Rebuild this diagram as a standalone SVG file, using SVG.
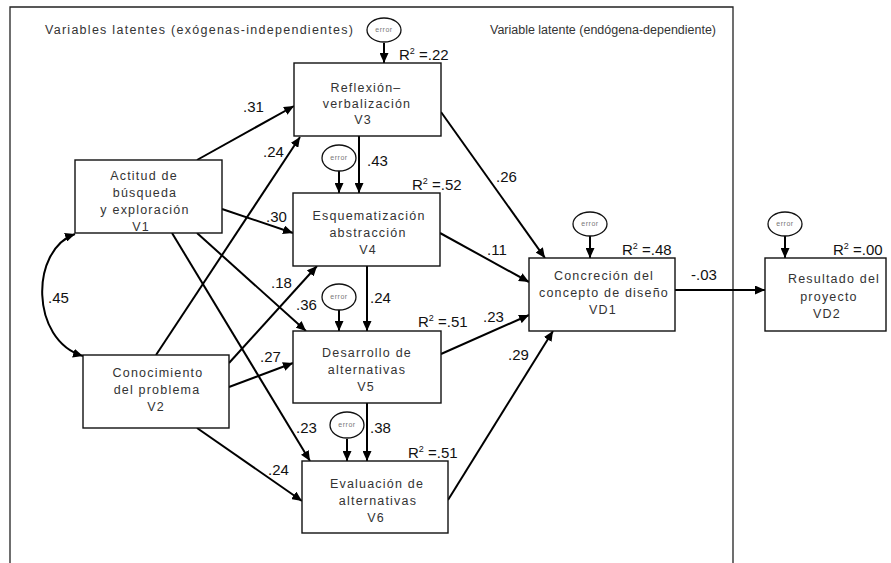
<svg xmlns="http://www.w3.org/2000/svg" width="891" height="563" viewBox="0 0 891 563">
<style>
.bg{fill:#fff}
.frame{fill:none;stroke:#222;stroke-width:1.3}
.box{fill:#fff;stroke:#111;stroke-width:1.4}
.bt{font-family:"Liberation Sans",Arial,sans-serif;font-size:12.5px;fill:#333;letter-spacing:1.2px;text-anchor:middle}
.hd{font-family:"Liberation Sans",Arial,sans-serif;font-size:12.5px;fill:#333}
.num{font-family:"Liberation Sans",Arial,sans-serif;font-size:15px;fill:#111}
.err{fill:#fff;stroke:#111;stroke-width:1.3}
.et{font-family:"Liberation Sans",Arial,sans-serif;font-size:7px;fill:#777;text-anchor:middle;letter-spacing:0.5px}
.c{fill:none;stroke:#000;stroke-width:2;marker-end:url(#ah)}
</style>
<defs>
<marker id="ah" markerUnits="userSpaceOnUse" markerWidth="11" markerHeight="9" refX="10" refY="4.5" orient="auto-start-reverse">
<path d="M0,0 L10,4.5 L0,9 z" fill="#000"/>
</marker>
</defs>
<rect class="bg" x="0" y="0" width="891" height="563"/>
<path class="frame" d="M10,563 V7 H733 V563"/>
<text class="hd" x="45" y="34" textLength="308" lengthAdjust="spacing">Variables latentes (exógenas-independientes)</text>
<text class="hd" x="490" y="34" textLength="226" lengthAdjust="spacing">Variable latente (endógena-dependiente)</text>

<g id="connectors">
<path class="c" d="M197,160 L294,106"/>
<path class="c" d="M156,355 L300,137"/>
<path class="c" d="M222,209 L293,233"/>
<path class="c" d="M197,233 L306,331"/>
<path class="c" d="M172,233 L310,461"/>
<path class="c" d="M229,363 L317,266"/>
<path class="c" d="M229,387 L293,363"/>
<path class="c" d="M197,428 L302,501"/>
<path class="c" d="M441,112 L545,258"/>
<path class="c" d="M440,233 L529,282"/>
<path class="c" d="M441,354 L529,315"/>
<path class="c" d="M448,500 L553,331"/>
<path class="c" d="M359,136 L359,193"/>
<path class="c" d="M367,266 L367,331"/>
<path class="c" d="M367,403 L367,461"/>
<path class="c" d="M675,290 L765,290"/>
<path class="c" d="M75,234 C30,250 30,340 83,356" style="marker-start:url(#ah)"/>
<path class="c" d="M384,43 L384,63"/>
<path class="c" d="M339,171 L339,193"/>
<path class="c" d="M339,310 L339,331"/>
<path class="c" d="M347,439 L347,461"/>
<path class="c" d="M590,236 L590,258"/>
<path class="c" d="M785,236 L785,258"/>
<text class="num" x="243" y="112">.31</text>
<text class="num" x="263" y="157">.24</text>
<text class="num" x="266" y="222">.30</text>
<text class="num" x="271" y="288">.18</text>
<text class="num" x="296" y="310">.36</text>
<text class="num" x="260" y="362">.27</text>
<text class="num" x="296" y="433">.23</text>
<text class="num" x="268" y="475">.24</text>
<text class="num" x="48" y="303">.45</text>
<text class="num" x="367" y="166">.43</text>
<text class="num" x="370" y="303">.24</text>
<text class="num" x="370" y="433">.38</text>
<text class="num" x="496" y="182">.26</text>
<text class="num" x="487" y="255">.11</text>
<text class="num" x="483" y="322">.23</text>
<text class="num" x="508" y="360">.29</text>
<text class="num" x="691" y="280">-.03</text>
</g>

<g id="V3">
<rect class="box" x="294" y="63" width="147" height="73"/>
<text class="bt" x="366" y="92">Reflexión–</text>
<text class="bt" x="367" y="108">verbalización</text>
<text class="bt" x="363" y="124">V3</text>
<ellipse class="err" cx="384" cy="30" rx="17" ry="12"/>
<text class="et" x="384" y="32">error</text>
<text class="num" x="399" y="60">R<tspan font-size="9" dy="-6">2</tspan><tspan dy="6"> =.22</tspan></text>
</g>

<g id="V1">
<rect class="box" x="75" y="160" width="147" height="73"/>
<text class="bt" x="144" y="180">Actitud de</text>
<text class="bt" x="145" y="197">búsqueda</text>
<text class="bt" x="145" y="214">y exploración</text>
<text class="bt" x="141" y="231">V1</text>
</g>

<g id="V4">
<rect class="box" x="293" y="193" width="147" height="73"/>
<text class="bt" x="369" y="220">Esquematización</text>
<text class="bt" x="368" y="237">abstracción</text>
<text class="bt" x="368" y="254">V4</text>
<ellipse class="err" cx="339" cy="158" rx="17" ry="13"/>
<text class="et" x="339" y="160">error</text>
<text class="num" x="412" y="190">R<tspan font-size="9" dy="-6">2</tspan><tspan dy="6"> =.52</tspan></text>
</g>

<g id="V5">
<rect class="box" x="293" y="331" width="148" height="72"/>
<text class="bt" x="367" y="357">Desarrollo de</text>
<text class="bt" x="367" y="374">alternativas</text>
<text class="bt" x="366" y="391">V5</text>
<ellipse class="err" cx="339" cy="297" rx="17" ry="13"/>
<text class="et" x="339" y="299">error</text>
<text class="num" x="418" y="327">R<tspan font-size="9" dy="-6">2</tspan><tspan dy="6"> =.51</tspan></text>
</g>

<g id="V6">
<rect class="box" x="302" y="461" width="146" height="72"/>
<text class="bt" x="377" y="488">Evaluación de</text>
<text class="bt" x="378" y="505">alternativas</text>
<text class="bt" x="376" y="522">V6</text>
<ellipse class="err" cx="347" cy="425" rx="17" ry="13"/>
<text class="et" x="347" y="427">error</text>
<text class="num" x="408" y="458">R<tspan font-size="9" dy="-6">2</tspan><tspan dy="6"> =.51</tspan></text>
</g>

<g id="V2">
<rect class="box" x="83" y="355" width="146" height="73"/>
<text class="bt" x="158" y="377">Conocimiento</text>
<text class="bt" x="157" y="394">del problema</text>
<text class="bt" x="156" y="411">V2</text>
</g>

<g id="VD1">
<rect class="box" x="529" y="258" width="146" height="73"/>
<text class="bt" x="604" y="280">Concreción del</text>
<text class="bt" x="604" y="297">concepto de diseño</text>
<text class="bt" x="603" y="314">VD1</text>
<ellipse class="err" cx="590" cy="224" rx="17" ry="12"/>
<text class="et" x="590" y="226">error</text>
<text class="num" x="622" y="255">R<tspan font-size="9" dy="-6">2</tspan><tspan dy="6"> =.48</tspan></text>
</g>

<g id="VD2">
<rect class="box" x="765" y="258" width="121" height="73"/>
<text class="bt" x="834" y="283">Resultado del</text>
<text class="bt" x="829" y="301">proyecto</text>
<text class="bt" x="827" y="318">VD2</text>
<ellipse class="err" cx="785" cy="224" rx="17" ry="12"/>
<text class="et" x="785" y="226">error</text>
<text class="num" x="833" y="255">R<tspan font-size="9" dy="-6">2</tspan><tspan dy="6"> =.00</tspan></text>
</g>
</svg>
